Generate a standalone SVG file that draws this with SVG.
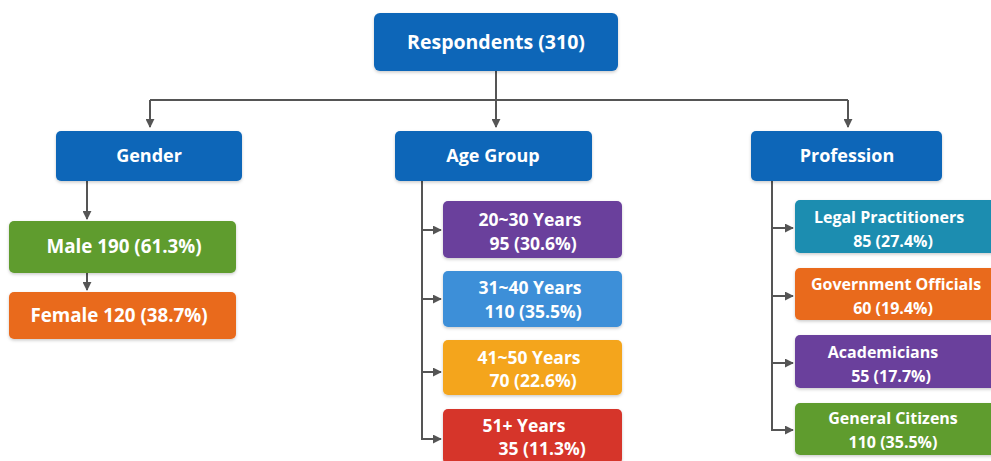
<svg xmlns="http://www.w3.org/2000/svg" width="991" height="461" viewBox="0 0 991 461">
<defs>
<marker id="arr" viewBox="0 0 10 10" refX="9" refY="5" markerWidth="4.5" markerHeight="4.5" orient="auto" markerUnits="strokeWidth">
<path d="M0,0 L10,5 L0,10 z" fill="#555"/>
</marker>
<filter id="sh" x="-10%" y="-10%" width="120%" height="130%">
<feDropShadow dx="0" dy="1.5" stdDeviation="1.5" flood-color="#000" flood-opacity="0.2"/>
</filter>
</defs>
<style>
.box{filter:url(#sh);}
.t{font-family:"Open Sans","Noto Sans","Liberation Sans",sans-serif;font-weight:bold;fill:#fff;text-anchor:middle;}
.big{font-size:19.5px;}
.mid{font-size:18px;}
.gm{font-size:18.8px;}
.sm{font-size:17.5px;}
.xs{font-size:16px;}
.c{fill:none;stroke:#555;stroke-width:2;}
</style>
<rect width="991" height="461" fill="#fff"/>
<g id="connectors">
<path class="c" d="M496,71 V100"/>
<path class="c" d="M150,100 H848"/>
<path class="c" d="M150,100 V127" marker-end="url(#arr)"/>
<path class="c" d="M496,100 V127" marker-end="url(#arr)"/>
<path class="c" d="M848,100 V127" marker-end="url(#arr)"/>
<path class="c" d="M87,181 V219" marker-end="url(#arr)"/>
<path class="c" d="M87,273 V290" marker-end="url(#arr)"/>
<path class="c" d="M422,181 V439"/>
<path class="c" d="M421,230 H441" marker-end="url(#arr)"/>
<path class="c" d="M421,299 H441" marker-end="url(#arr)"/>
<path class="c" d="M421,372 H441" marker-end="url(#arr)"/>
<path class="c" d="M421,439 H441" marker-end="url(#arr)"/>
<path class="c" d="M772,181 V430"/>
<path class="c" d="M771,228 H793" marker-end="url(#arr)"/>
<path class="c" d="M771,296 H793" marker-end="url(#arr)"/>
<path class="c" d="M771,363 H793" marker-end="url(#arr)"/>
<path class="c" d="M771,430 H793" marker-end="url(#arr)"/>
</g>
<g id="respondents">
<rect class="box" x="374" y="13" width="244" height="58" rx="6" fill="#0b66b8"/>
<text class="t big" x="496" y="49">Respondents (310)</text>
</g>
<g id="gender">
<rect class="box" x="56" y="131" width="186" height="50" rx="5" fill="#0b66b8"/>
<text class="t mid" x="149" y="162">Gender</text>
</g>
<g id="agegroup">
<rect class="box" x="395" y="131" width="197" height="50" rx="5" fill="#0b66b8"/>
<text class="t mid" x="493" y="162">Age Group</text>
</g>
<g id="profession">
<rect class="box" x="751" y="131" width="191" height="50" rx="5" fill="#0b66b8"/>
<text class="t mid" x="847" y="162">Profession</text>
</g>
<g id="male">
<rect class="box" x="9" y="221" width="227" height="52" rx="5" fill="#5e9c2e"/>
<text class="t gm" x="124" y="253">Male 190 (61.3%)</text>
</g>
<g id="female">
<rect class="box" x="9" y="292" width="227" height="47" rx="5" fill="#e96a1d"/>
<text class="t gm" x="119" y="322">Female 120 (38.7%)</text>
</g>
<g id="age20">
<rect class="box" x="443" y="201" width="179" height="57" rx="5" fill="#6a3f9c"/>
<text class="t sm" x="530" y="226">20~30 Years</text>
<text class="t sm" x="533" y="250">95 (30.6%)</text>
</g>
<g id="age31">
<rect class="box" x="443" y="271" width="179" height="56" rx="5" fill="#3d8fd8"/>
<text class="t sm" x="530" y="294">31~40 Years</text>
<text class="t sm" x="533" y="318">110 (35.5%)</text>
</g>
<g id="age41">
<rect class="box" x="443" y="340" width="179" height="55" rx="5" fill="#f4a51c"/>
<text class="t sm" x="529" y="364">41~50 Years</text>
<text class="t sm" x="533" y="387">70 (22.6%)</text>
</g>
<g id="age51">
<rect class="box" x="443" y="409" width="179" height="55" rx="5" fill="#d6342c"/>
<text class="t sm" x="524" y="432">51+ Years</text>
<text class="t sm" x="542" y="455">35 (11.3%)</text>
</g>
<g id="legal">
<rect class="box" x="795" y="200" width="202" height="53" rx="5" fill="#1a8db0"/>
<text class="t xs" x="889" y="223">Legal Practitioners</text>
<text class="t xs" x="893" y="247">85 (27.4%)</text>
</g>
<g id="gov">
<rect class="box" x="795" y="268" width="202" height="52" rx="5" fill="#e96a1d"/>
<text class="t xs" x="896" y="290">Government Officials</text>
<text class="t xs" x="893" y="314">60 (19.4%)</text>
</g>
<g id="acad">
<rect class="box" x="795" y="335" width="202" height="53" rx="5" fill="#6a3f9c"/>
<text class="t xs" x="883" y="358">Academicians</text>
<text class="t xs" x="891" y="382">55 (17.7%)</text>
</g>
<g id="citizens">
<rect class="box" x="795" y="403" width="202" height="52" rx="5" fill="#5e9c2e"/>
<text class="t xs" x="893" y="424">General Citizens</text>
<text class="t xs" x="893" y="448">110 (35.5%)</text>
</g>
</svg>
